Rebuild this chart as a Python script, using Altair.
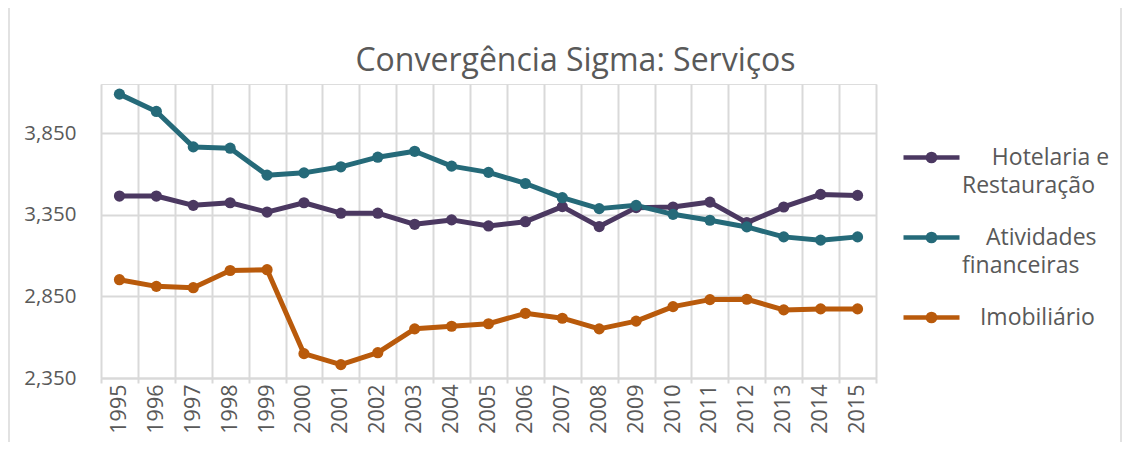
import altair as alt
import pandas as pd

# ---- data ----
years = [str(y) for y in range(1995, 2016)]
hotelaria = [3464, 3464, 3407, 3423, 3366, 3423, 3359, 3359, 3291, 3318, 3281,
             3307, 3399, 3277, 3393, 3397, 3427, 3301, 3397, 3474, 3468]
financeiras = [4088, 3982, 3765, 3757, 3592, 3606, 3643, 3702, 3738, 3647, 3609,
               3541, 3454, 3387, 3407, 3352, 3316, 3275, 3214, 3194, 3214]
imobiliario = [2952, 2911, 2903, 3008, 3013, 2499, 2432, 2505, 2651, 2667, 2682,
               2746, 2716, 2651, 2698, 2787, 2830, 2832, 2767, 2773, 2773]
series_names = ["Hotelaria e Restauração", "Atividades financeiras", "Imobiliário"]
series_colors = ["#4b3861", "#256a79", "#b95a0b"]
INDENT = "\u200b"
legend_lines = [
    [INDENT + "\u00a0" * 5 + "Hotelaria e", "Restauração"],
    [INDENT + "\u00a0" * 4 + "Atividades", "financeiras"],
    [INDENT + "\u00a0" * 3 + "Imobiliário"],
]
y_ticks = [2350, 2850, 3350, 3850]
y_domain = [2350, 4150]
chart_title = "Convergência Sigma: Serviços"

rows = []
for name, vals in zip(series_names, [hotelaria, financeiras, imobiliario]):
    for yr, v in zip(years, vals):
        rows.append({"Ano": yr, "Série": name, "Valor": v})
df = pd.DataFrame(rows)


def js_list(lines):
    return "[" + ",".join("'" + s + "'" for s in lines) + "]"


label_expr = ""
for name, lines in zip(series_names, legend_lines):
    label_expr += f"datum.label == '{name}' ? {js_list(lines)} : "
label_expr += "datum.label"

GRID = "#d9d9d9"
TEXT = "#595959"
FONT = "Open Sans"

sym_path = ("M-1,0L1,0M-0.125,0A0.125,0.125,0,1,1,0.125,0"
            "A0.125,0.125,0,1,1,-0.125,0Z")

x_enc = alt.X(
    "Ano:O",
    sort=years,
    scale=alt.Scale(type="band", paddingInner=0, paddingOuter=0),
    axis=alt.Axis(
        title=None, labelAngle=-90, labelFont=FONT, labelFontSize=21.5,
        labelColor=TEXT, tickBand="extent", grid=True, gridColor=GRID,
        gridWidth=2, domainColor=GRID, domainWidth=2, ticks=True,
        tickColor=GRID, tickWidth=2, tickSize=5, labelPadding=1,
    ),
)
y_enc = alt.Y(
    "Valor:Q",
    scale=alt.Scale(domain=y_domain, nice=False, zero=False),
    axis=alt.Axis(
        title=None, values=y_ticks, format=",.0f", labelFont=FONT,
        labelFontSize=20.5, labelColor=TEXT, grid=True, gridColor=GRID,
        gridWidth=2, domain=False, ticks=False, labelPadding=25,
    ),
)
color_enc = alt.Color(
    "Série:N",
    sort=series_names,
    scale=alt.Scale(domain=series_names, range=series_colors),
    legend=alt.Legend(
        title=None, orient="none", legendX=800, legendY=43,
        direction="vertical", symbolType=sym_path, symbolSize=3136,
        symbolStrokeWidth=4.7, symbolOpacity=1, labelFont=FONT,
        labelFontSize=23, labelColor=TEXT, labelOffset=0, rowPadding=9,
        labelExpr=label_expr, labelLimit=400, padding=0,
    ),
)

base = alt.Chart(df).encode(x=x_enc, y=y_enc, color=color_enc)
lines = base.mark_line(strokeWidth=5, strokeCap="round", strokeJoin="round")
points = base.mark_circle(size=125, opacity=1)

# faint chart-area frame (decoration, as in the reference)
frame_df = pd.DataFrame({"k": [0]})
fr = alt.Chart(frame_df).mark_rule(color=GRID, strokeWidth=1.5)
frame_top = fr.encode(x=alt.value(-92), x2=alt.value(1020), y=alt.value(-80))
frame_left = fr.encode(x=alt.value(-92), y=alt.value(-80), y2=alt.value(366))
frame_right = fr.encode(x=alt.value(1020), y=alt.value(-80), y2=alt.value(366))

chart = (
    alt.layer(frame_top, frame_left, frame_right, lines, points)
    .properties(
        width=775,
        height=294,
        autosize=alt.AutoSizeParams(type="none"),
        padding={"left": 93, "top": 76, "right": 246, "bottom": 64},
        title=alt.TitleParams(
            chart_title, font=FONT, fontSize=32, fontWeight="normal",
            color=TEXT, anchor="middle", dx=87, offset=-75,
        ),
    )
    .configure_view(stroke=None)
    .configure(background="white", style={"guide-label": {"lineHeight": 28}})
)

chart.save("out.html", embed_options={"renderer": "svg", "actions": False})
